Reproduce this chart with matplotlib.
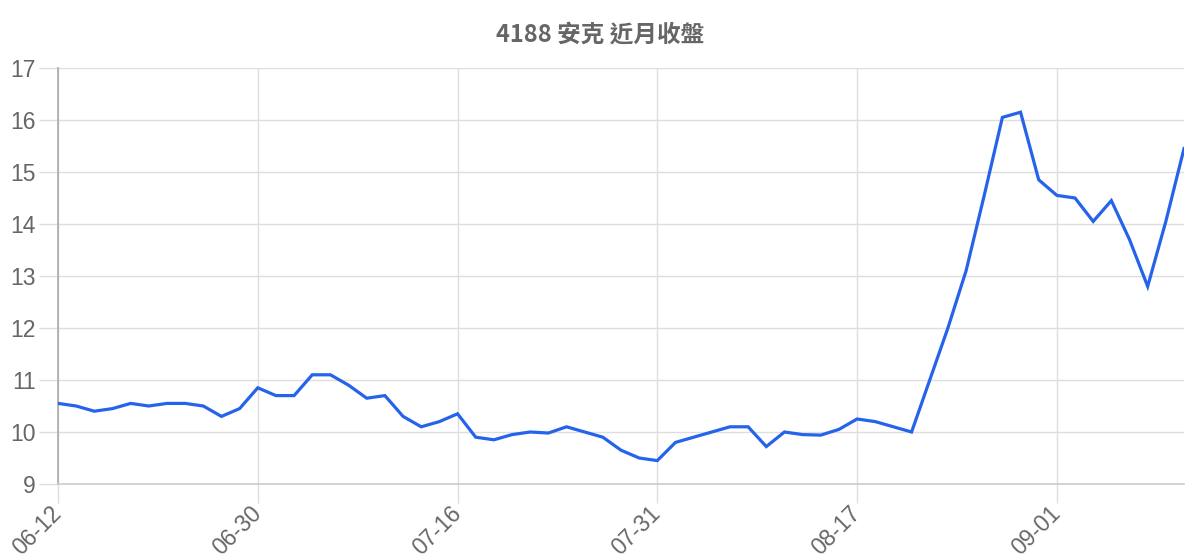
import matplotlib
matplotlib.use("Agg")
import matplotlib.pyplot as plt

title = "4188 安克 近月收盤"

dates = [
    "06-12", "06-13", "06-14", "06-15", "06-16", "06-19", "06-20", "06-21", "06-26", "06-27", "06-29",
    "06-30", "07-03", "07-04", "07-05", "07-06", "07-07", "07-10", "07-11", "07-12", "07-13", "07-14",
    "07-16", "07-17", "07-18", "07-19", "07-20", "07-21", "07-24", "07-25", "07-26", "07-27", "07-28",
    "07-31", "08-01", "08-02", "08-03", "08-04", "08-07", "08-08", "08-09", "08-10", "08-11", "08-14",
    "08-17", "08-18", "08-21", "08-22", "08-23", "08-24", "08-25", "08-28", "08-29", "08-30", "08-31",
    "09-01", "09-04", "09-05", "09-06", "09-07", "09-08", "09-11", "09-12",
]

closes = [
    10.55, 10.5, 10.4, 10.45, 10.55, 10.5, 10.55, 10.55, 10.5, 10.3, 10.45,
    10.85, 10.7, 10.7, 11.1, 11.1, 10.9, 10.65, 10.7, 10.3, 10.1, 10.2,
    10.35, 9.9, 9.85, 9.95, 10.0, 9.98, 10.1, 10.0, 9.9, 9.65, 9.5,
    9.45, 9.8, 9.9, 10.0, 10.1, 10.1, 9.72, 10.0, 9.95, 9.94, 10.05,
    10.25, 10.2, 10.1, 10.0, 11.0, 12.0, 13.1, 14.55, 16.05, 16.15, 14.85,
    14.55, 14.5, 14.05, 14.45, 13.7, 12.8, 14.05, 15.45,
]

tick_labels = ["06-12", "06-30", "07-16", "07-31", "08-17", "09-01"]
y_ticks = [9, 10, 11, 12, 13, 14, 15, 16, 17]

plt.rcParams['font.family'] = ['Liberation Sans', 'Noto Sans CJK TC', 'DejaVu Sans']

fig = plt.figure(figsize=(12, 5.6), dpi=100)
ax = fig.add_axes([58 / 1200, 1 - 484 / 560, (1184 - 58) / 1200, (484 - 68) / 560])

x = list(range(len(dates)))
ax.plot(x, closes, color="#2563eb", linewidth=2.3, solid_joinstyle="miter", zorder=3)

tick_pos = [dates.index(t) for t in tick_labels]
ax.set_xticks(tick_pos)
ax.set_xticklabels(tick_labels, rotation=45, ha="right", va="center", rotation_mode="anchor")
ax.set_yticks(y_ticks)
ax.set_yticklabels([str(v) for v in y_ticks])
ax.set_xlim(0, len(dates) - 1)
ax.set_ylim(9, 17)

grid_c = "#dedede"
ax.grid(True, color=grid_c, linewidth=1.0)
ax.set_axisbelow(True)
ax.tick_params(axis="both", colors=grid_c, labelcolor="#666666", labelsize=16.5, length=14, width=1.0)
ax.tick_params(axis="y", pad=2)
ax.tick_params(axis="x", pad=5)

for s in ["top", "right"]:
    ax.spines[s].set_visible(False)
ax.spines["left"].set_color("#aaaaaa")
ax.spines["bottom"].set_color("#cccccc")
ax.spines["left"].set_linewidth(1.2)
ax.spines["bottom"].set_linewidth(1.2)

fig.text(0.5, 1 - 35 / 560, title, ha="center", va="center", fontsize=17, fontweight="bold",
         color="#666666", family=["Noto Sans CJK TC", "DejaVu Sans"])

fig.savefig("out.png", dpi=100)
